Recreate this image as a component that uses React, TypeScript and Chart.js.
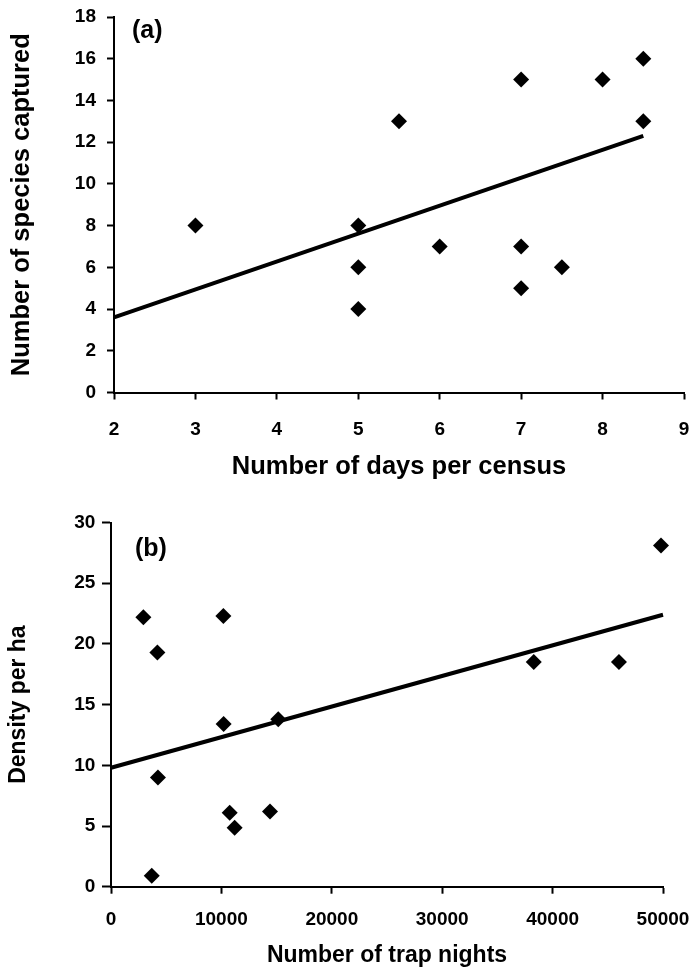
import React, { useEffect, useRef } from 'react';
import { Chart, registerables } from 'chart.js';

Chart.register(...registerables);

// ---------- Panel (a) data ----------
const daysPerCensus = [3, 5, 5, 5, 5.5, 6, 7, 7, 7, 7.5, 8, 8.5, 8.5];
const speciesCaptured = [8, 8, 6, 4, 13, 7, 15, 7, 5, 6, 15, 16, 13];
const trendAX = [2, 8.5];
const trendAY = [3.6, 12.3];
const daysTicks = [2, 3, 4, 5, 6, 7, 8, 9];
const speciesTicks = [0, 2, 4, 6, 8, 10, 12, 14, 16, 18];

// ---------- Panel (b) data ----------
const trapNights = [2930, 4200, 10180, 10200, 15150, 4250, 10750, 11200, 14400, 3690, 38290, 46010, 49820];
const densityPerHa = [22.2, 19.3, 22.3, 13.4, 13.8, 9.0, 6.1, 4.85, 6.2, 0.9, 18.5, 18.5, 28.1];
const trendBX = [0, 50000];
const trendBY = [9.8, 22.4];
const trapTicks = [0, 10000, 20000, 30000, 40000, 50000];
const densityTicks = [0, 5, 10, 15, 20, 25, 30];

const FONT = "'Liberation Sans', Arial, Helvetica, sans-serif";
const W = 692;
const H = 484;

type PanelSpec = {
  label: string;
  labelDX: number;
  labelDY: number;
  labelSize: number;
  xs: number[];
  ys: number[];
  tx: number[];
  ty: number[];
  xTicks: number[];
  yTicks: number[];
  xTitle: string;
  yTitle: string;
  titleSize: number;
  tickSize: number;
  padTop: number;
  padRight: number;
  yWidth: number;
  xHeight: number;
  xTickLen: number;
  yTickLen: number;
  xTickPad: number;
  yTickPad: number;
  xTitlePadBottom: number;
  yTitlePadTop: number;
};

const specA: PanelSpec = {
  label: '(a)',
  labelDX: 18,
  labelDY: 14,
  labelSize: 25,
  xs: daysPerCensus,
  ys: speciesCaptured,
  tx: trendAX,
  ty: trendAY,
  xTicks: daysTicks,
  yTicks: speciesTicks,
  xTitle: 'Number of days per census',
  yTitle: 'Number of species captured',
  titleSize: 25.5,
  tickSize: 19,
  padTop: 17,
  padRight: 7,
  yWidth: 114,
  xHeight: H - 392.5,
  xTickLen: 7,
  yTickLen: 7,
  xTickPad: 18.5,
  yTickPad: 11,
  xTitlePadBottom: 4.2,
  yTitlePadTop: 9,
};

const specB: PanelSpec = {
  label: '(b)',
  labelDX: 24,
  labelDY: 26.5,
  labelSize: 25,
  xs: trapNights,
  ys: densityPerHa,
  tx: trendBX,
  ty: trendBY,
  xTicks: trapTicks,
  yTicks: densityTicks,
  xTitle: 'Number of trap nights',
  yTitle: 'Density per ha',
  titleSize: 23,
  tickSize: 19,
  padTop: 38.5,
  padRight: 29,
  yWidth: 111,
  xHeight: H - 402.7,
  xTickLen: 7,
  yTickLen: 9,
  xTickPad: 15,
  yTickPad: 6.7,
  xTitlePadBottom: 0.9,
  yTitlePadTop: 7,
};

function buildConfig(s: PanelSpec): any {
  const panelLabel = {
    id: 'panelLabel',
    afterDraw(chart: any) {
      const { ctx, chartArea } = chart;
      ctx.save();
      ctx.fillStyle = '#000';
      ctx.font = `bold ${s.labelSize}px ${FONT}`;
      ctx.textAlign = 'left';
      ctx.textBaseline = 'middle';
      ctx.fillText(s.label, chartArea.left + s.labelDX, chartArea.top + s.labelDY);
      ctx.restore();
    },
  };

  const tickFont = { family: FONT, size: s.tickSize, weight: 'bold' as const };
  const titleFont = { family: FONT, size: s.titleSize, weight: 'bold' as const, lineHeight: 1 };

  return {
    type: 'scatter',
    data: {
      datasets: [
        {
          label: 'trend',
          type: 'line',
          data: s.tx.map((x, i) => ({ x, y: s.ty[i] })),
          showLine: true,
          borderColor: '#000',
          borderWidth: 4,
          pointRadius: 0,
          fill: false,
          clip: false,
        },
        {
          label: 'points',
          data: s.xs.map((x, i) => ({ x, y: s.ys[i] })),
          pointStyle: 'rectRot',
          pointRadius: 8,
          backgroundColor: '#000',
          borderColor: '#000',
          borderWidth: 0,
          showLine: false,
          clip: false,
        },
      ],
    },
    options: {
      responsive: false,
      animation: false,
      devicePixelRatio: 1,
      layout: { padding: { top: s.padTop, right: s.padRight, left: 0, bottom: 0 } },
      plugins: {
        legend: { display: false },
        tooltip: { enabled: false },
      },
      scales: {
        x: {
          type: 'linear',
          min: s.xTicks[0],
          max: s.xTicks[s.xTicks.length - 1],
          afterBuildTicks: (sc: any) => {
            sc.ticks = s.xTicks.map((v) => ({ value: v }));
          },
          afterFit: (sc: any) => {
            sc.height = s.xHeight;
            sc.paddingLeft = 0;
            sc.paddingRight = 0;
          },
          ticks: {
            color: '#000',
            font: tickFont,
            padding: s.xTickPad,
            maxRotation: 0,
            autoSkip: false,
            callback: (v: any) => String(v),
          },
          grid: {
            display: true,
            drawOnChartArea: false,
            drawTicks: true,
            tickLength: s.xTickLen,
            tickWidth: 2,
            tickColor: '#000',
          },
          border: { display: true, color: '#000', width: 2 },
          title: {
            display: true,
            text: s.xTitle,
            color: '#000',
            font: titleFont,
            padding: { top: 0, bottom: s.xTitlePadBottom },
          },
        },
        y: {
          type: 'linear',
          min: s.yTicks[0],
          max: s.yTicks[s.yTicks.length - 1],
          afterBuildTicks: (sc: any) => {
            sc.ticks = s.yTicks.map((v) => ({ value: v }));
          },
          afterFit: (sc: any) => {
            sc.width = s.yWidth;
            sc.paddingTop = 0;
            sc.paddingBottom = 0;
          },
          ticks: {
            color: '#000',
            font: tickFont,
            padding: s.yTickPad,
            autoSkip: false,
            callback: (v: any) => String(v),
          },
          grid: {
            display: true,
            drawOnChartArea: false,
            drawTicks: true,
            tickLength: s.yTickLen,
            tickWidth: 2,
            tickColor: '#000',
          },
          border: { display: true, color: '#000', width: 2 },
          title: {
            display: true,
            text: s.yTitle,
            color: '#000',
            font: titleFont,
            padding: { top: s.yTitlePadTop, bottom: 0 },
          },
        },
      },
    },
    plugins: [panelLabel],
  };
}

function Panel({ spec, top }: { spec: PanelSpec; top: number }) {
  const ref = useRef<HTMLCanvasElement | null>(null);
  useEffect(() => {
    if (!ref.current) return;
    const chart = new Chart(ref.current, buildConfig(spec));
    return () => chart.destroy();
  }, [spec]);
  return (
    <canvas
      ref={ref}
      width={W}
      height={H}
      style={{ position: 'absolute', left: 0, top, width: W, height: H, display: 'block' }}
    />
  );
}

export default function App() {
  return (
    <div style={{ position: 'absolute', left: 0, top: 0, width: W, height: 968, background: '#fff' }}>
      <Panel spec={specA} top={0} />
      <Panel spec={specB} top={H} />
    </div>
  );
}
